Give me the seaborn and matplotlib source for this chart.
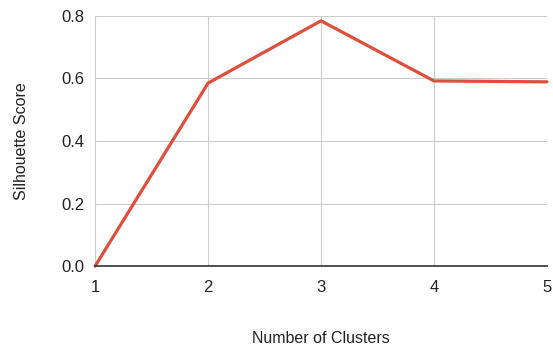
import matplotlib
matplotlib.use("Agg")
import matplotlib.pyplot as plt
import seaborn as sns
import pandas as pd

clusters = [1, 2, 3, 4, 5]
scores = [0.0, 0.585, 0.784, 0.592, 0.589]
yticks = [0.0, 0.2, 0.4, 0.6, 0.8]

sns.set_style("white")
plt.rcParams['font.family'] = ['Liberation Sans', 'DejaVu Sans']

df = pd.DataFrame({'clusters': clusters, 'score': scores})

fig = plt.figure(figsize=(5.53, 3.52), dpi=100)
ax = fig.add_axes([0.172, 0.244, 0.817, 0.711])
sns.lineplot(data=df, x='clusters', y='score', color='#de4e3c', linewidth=2.3, ax=ax, clip_on=False)

ax.set_xlim(1, 5)
ax.set_ylim(0, 0.8)
ax.set_xticks(clusters)
ax.set_yticks(yticks)
ax.set_yticklabels([f"{v:.1f}" for v in yticks])
ax.grid(True, color='#cccccc', linewidth=0.8)
for s in ['top', 'right', 'left']:
    ax.spines[s].set_visible(False)
ax.spines['bottom'].set_color('#333333')
ax.spines['bottom'].set_linewidth(1.2)
ax.tick_params(axis='both', length=0, labelsize=12, colors='#222222')
ax.tick_params(axis='x', pad=10)
ax.tick_params(axis='y', pad=8)
ax.set_xlabel('Number of Clusters', fontsize=11.5, color='#222222', labelpad=26)
ax.set_ylabel('Silhouette Score', fontsize=11.5, color='#222222', labelpad=23)

fig.savefig('out.png', dpi=100)
